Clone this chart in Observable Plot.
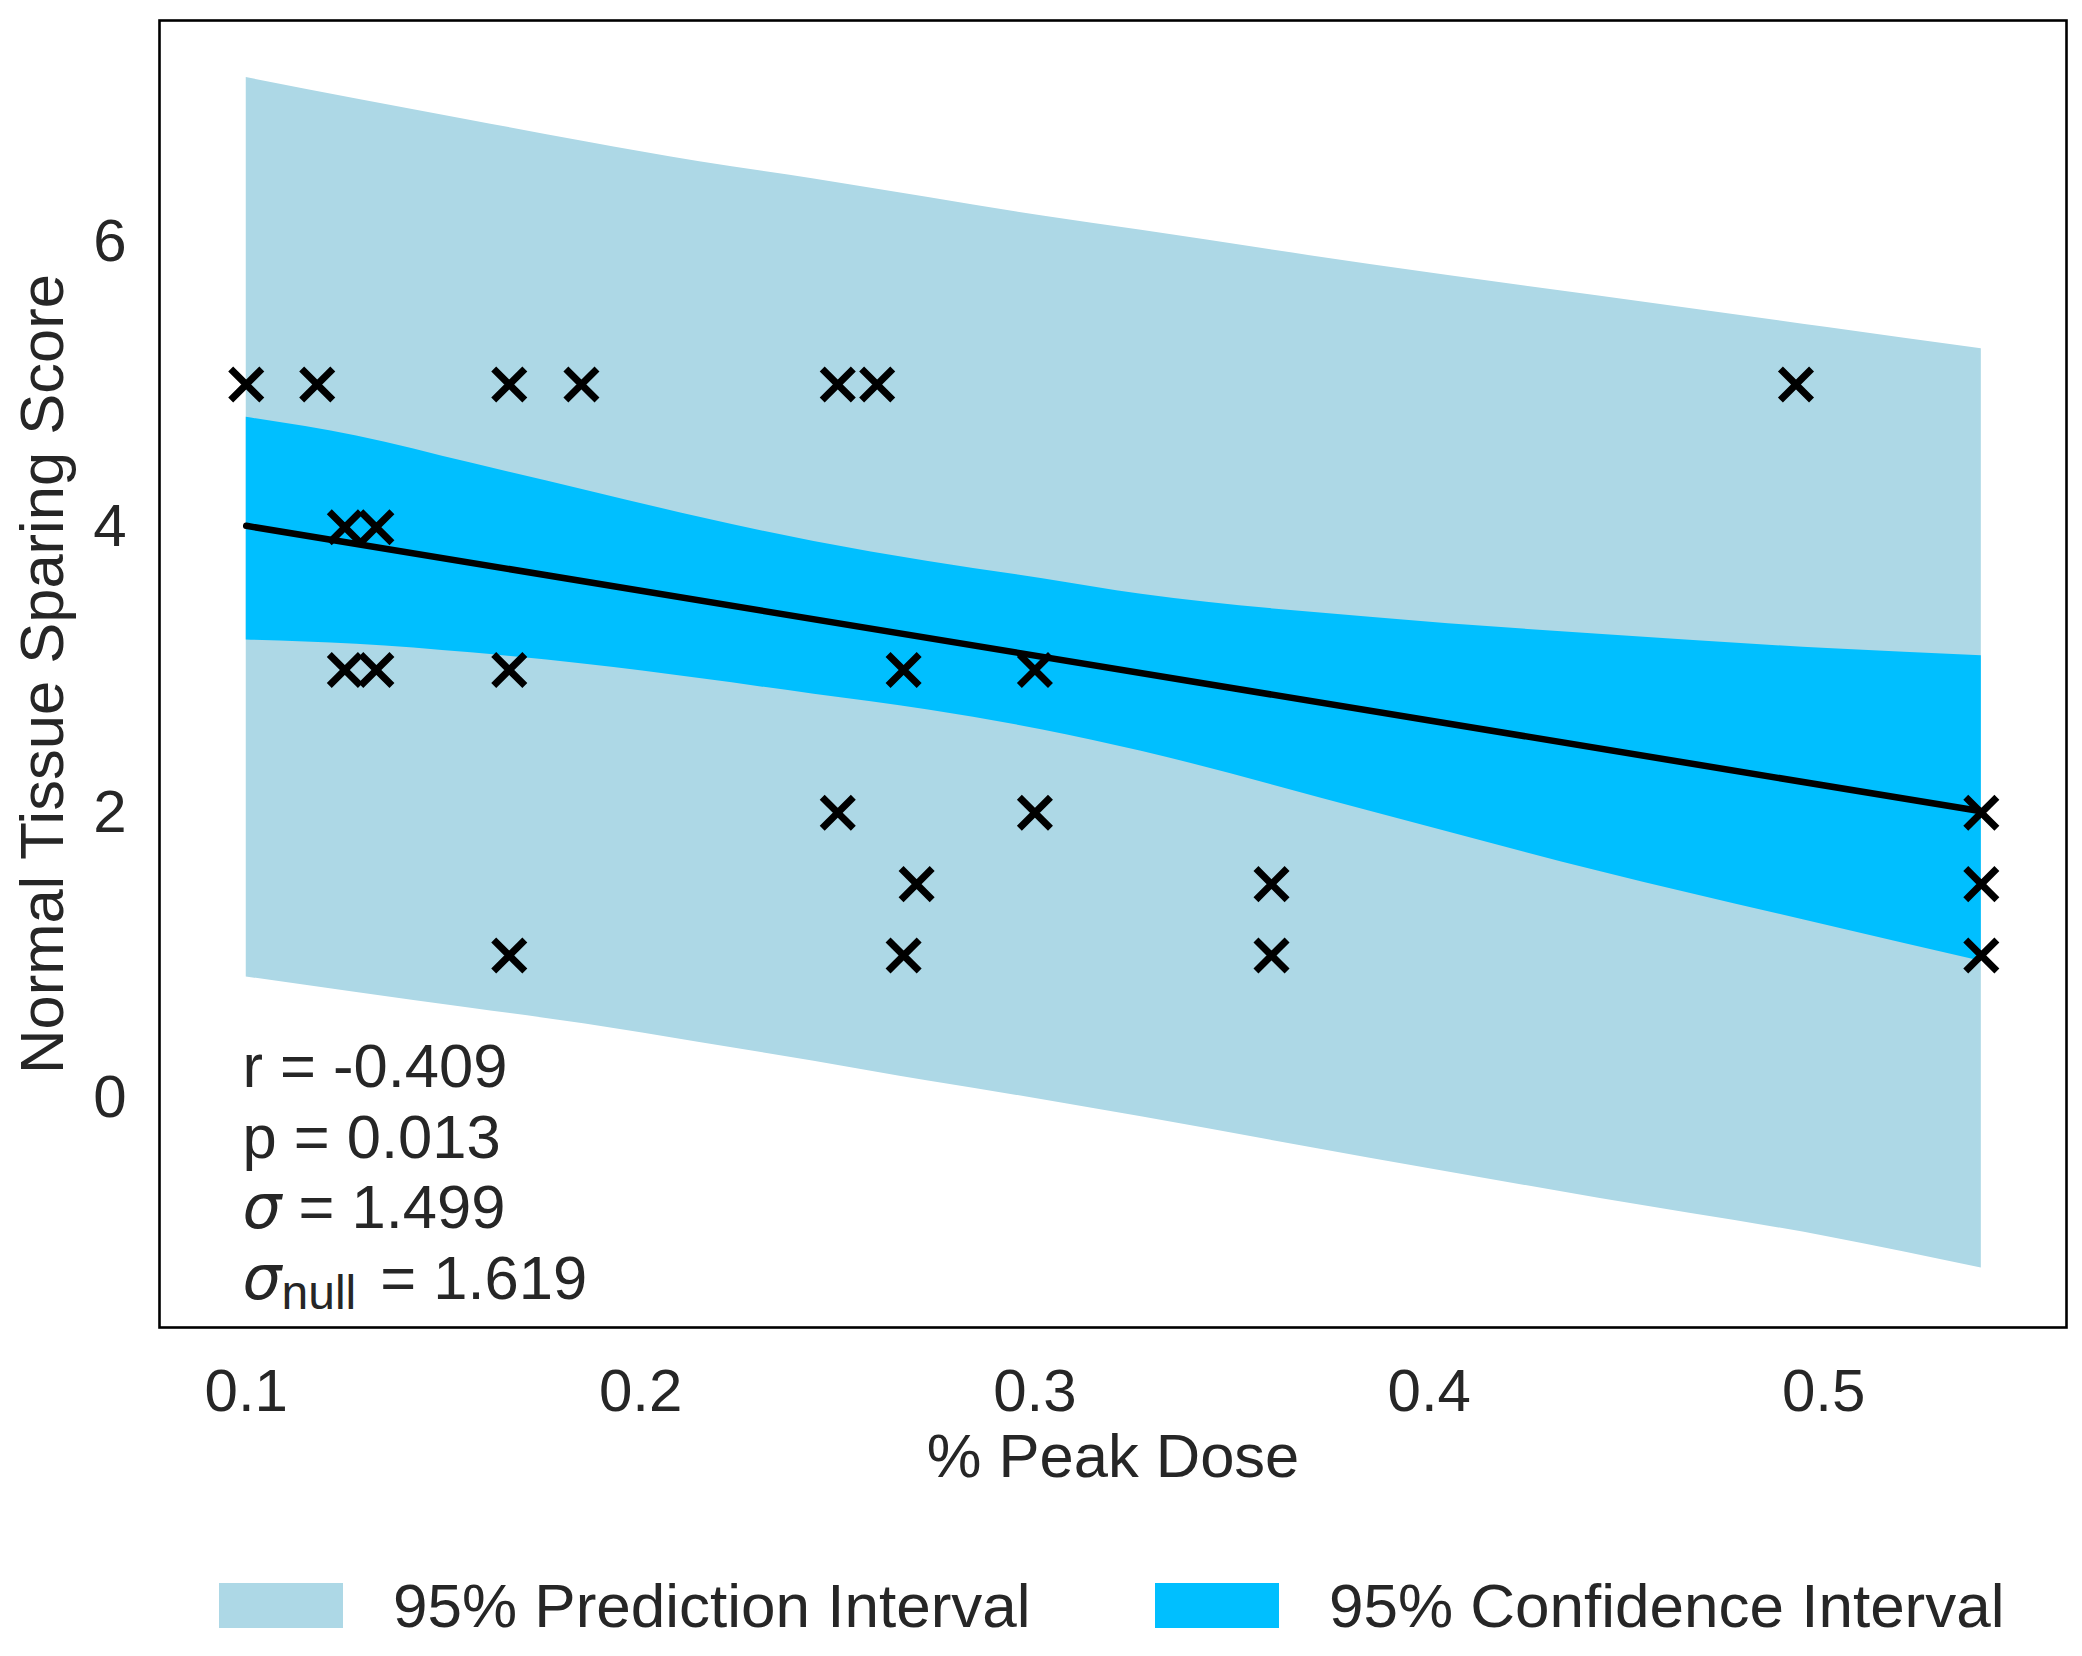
<!DOCTYPE html>
<html>
<head>
<meta charset="utf-8">
<script src="https://cdn.jsdelivr.net/npm/d3@7"></script>
<script src="https://cdn.jsdelivr.net/npm/@observablehq/plot@0.6"></script>
<style>
  html, body { margin: 0; padding: 0; background: white; overflow: hidden; }
  body { position: relative; width: 2082px; height: 1656px; font-family: "Liberation Sans", Arial, sans-serif; }
  #legend { position: absolute; left: 0; top: 1583px; height: 45px; width: 2082px; color: #262626; font-size: 62px; }
  .item { position: absolute; top: 0; height: 45px; display: flex; align-items: center; }
  .patch { width: 124px; height: 45px; margin-right: 50px; }
  .label { line-height: 1; white-space: nowrap; }
</style>
</head>
<body>
<div id="chart"></div>
<div id="legend"></div>
<script>
// ---- data ----
const doseX  = [0.1, 0.118, 0.1667, 0.185, 0.25, 0.26, 0.493,
                0.125, 0.133,
                0.125, 0.133, 0.1667, 0.2667, 0.3,
                0.25, 0.3, 0.54,
                0.27, 0.36, 0.54,
                0.1667, 0.2667, 0.36, 0.54];
const scoreY = [5, 5, 5, 5, 5, 5, 5,
                4, 4,
                3, 3, 3, 3, 3,
                2, 2, 2,
                1.5, 1.5, 1.5,
                1, 1, 1, 1];

const bandX   = [0.1, 0.128, 0.157, 0.186, 0.215, 0.244, 0.273, 0.302, 0.327, 0.385, 0.443, 0.501, 0.54];
const piUpper = [7.15, 7.00, 6.85, 6.70, 6.56, 6.44, 6.31, 6.18, 6.08, 5.84, 5.62, 5.40, 5.25];
const piLower = [0.85, 0.74, 0.63, 0.52, 0.39, 0.26, 0.12, -0.01, -0.13, -0.42, -0.70, -0.97, -1.19];
const ciUpper = [4.77, 4.64, 4.45, 4.26, 4.07, 3.90, 3.76, 3.64, 3.53, 3.37, 3.25, 3.15, 3.10];
const ciLower = [3.21, 3.18, 3.12, 3.04, 2.94, 2.83, 2.72, 2.58, 2.43, 2.01, 1.59, 1.21, 0.96];

const fitX = [0.1, 0.54];
const fitY = [4.01, 2.01];

const xTicks = [0.1, 0.2, 0.3, 0.4, 0.5];
const yTicks = [0, 2, 4, 6];

const statLines = ["r = -0.409", "p = 0.013", "σ = 1.499", "σnull = 1.619"];
const xLabel = "% Peak Dose";
const yLabel = "Normal Tissue Sparing Score";
const legendLabels = ["95% Prediction Interval", "95% Confidence Interval"];
const legendColors = ["#ADD8E6", "#00BFFF"];

// ---- derived tables ----
const points = doseX.map((x, i) => ({x, y: scoreY[i]}));
const bands = bandX.map((x, i) => ({x, piLo: piLower[i], piHi: piUpper[i], ciLo: ciLower[i], ciHi: ciUpper[i]}));
const fit = fitX.map((x, i) => ({x, y: fitY[i]}));

const textColor = "#262626";
const statMarks = statLines.map((s, i) => Plot.text([s], {
  text: d => d, frameAnchor: "top-left", lineAnchor: "top", textAnchor: "start",
  dx: 83, dy: 1023 + i * 70.5, fontSize: 61.5, fill: textColor
}));

const chart = Plot.plot({
  width: 2082,
  height: 1520,
  marginLeft: 159,
  marginRight: 16,
  marginTop: 20,
  marginBottom: 193,
  style: {fontSize: "60px", fontFamily: "'Liberation Sans', Arial, sans-serif", color: textColor, background: "white"},
  x: {domain: [0.078, 0.5616], ticks: xTicks, tickFormat: d3.format(".1f"), tickSize: 0, tickPadding: 41, label: null},
  y: {domain: [-1.606, 7.55], ticks: yTicks, tickSize: 0, tickPadding: 33, label: null},
  marks: [
    Plot.areaY(bands, {x: "x", y1: "piLo", y2: "piHi", fill: legendColors[0], curve: "monotone-x"}),
    Plot.areaY(bands, {x: "x", y1: "ciLo", y2: "ciHi", fill: legendColors[1], curve: "monotone-x"}),
    Plot.line(fit, {x: "x", y: "y", stroke: "black", strokeWidth: 6.5}),
    Plot.dot(points, {x: "x", y: "y", symbol: d3.symbolTimes, r: 14.2, stroke: "black", strokeWidth: 7, fill: "none"}),
    Plot.frame({stroke: "black", strokeWidth: 2.6}),
    ...statMarks,
    Plot.text([xLabel], {text: d => d, frameAnchor: "bottom", lineAnchor: "middle", textAnchor: "middle", dy: 130, fontSize: 61.5, fill: textColor}),
    Plot.text([yLabel], {text: d => d, frameAnchor: "left", lineAnchor: "middle", textAnchor: "middle", rotate: -90, dx: -116, fontSize: 61.5, fill: textColor})
  ]
});

// mathtext-like styling for sigma lines
const NS = "http://www.w3.org/2000/svg";
function sigma() {
  const a = document.createElementNS(NS, "tspan");
  a.setAttribute("font-style", "italic");
  a.setAttribute("font-family", "'DejaVu Sans', sans-serif");
  a.textContent = "σ";
  return a;
}
chart.querySelectorAll("text").forEach(t => {
  const s = t.textContent;
  if (s === statLines[2]) {
    t.textContent = "";
    const b = document.createElementNS(NS, "tspan");
    b.textContent = s.slice(1);
    t.append(sigma(), b);
  } else if (s === statLines[3]) {
    t.textContent = "";
    const b = document.createElementNS(NS, "tspan");
    b.setAttribute("font-size", "48px"); b.setAttribute("dy", "10"); b.textContent = "null";
    const c = document.createElementNS(NS, "tspan");
    c.setAttribute("dy", "-10"); c.setAttribute("dx", "7"); c.textContent = s.slice(5);
    t.append(sigma(), b, c);
  }
});

document.getElementById("chart").appendChild(chart);

// legend below the SVG
const legend = document.getElementById("legend");
const lefts = [219, 1155];
legendLabels.forEach((lab, i) => {
  const item = document.createElement("div");
  item.className = "item";
  item.style.left = lefts[i] + "px";
  const p = document.createElement("div");
  p.className = "patch"; p.style.background = legendColors[i];
  const l = document.createElement("span");
  l.className = "label"; l.textContent = lab;
  item.append(p, l);
  legend.appendChild(item);
});
</script>
</body>
</html>
